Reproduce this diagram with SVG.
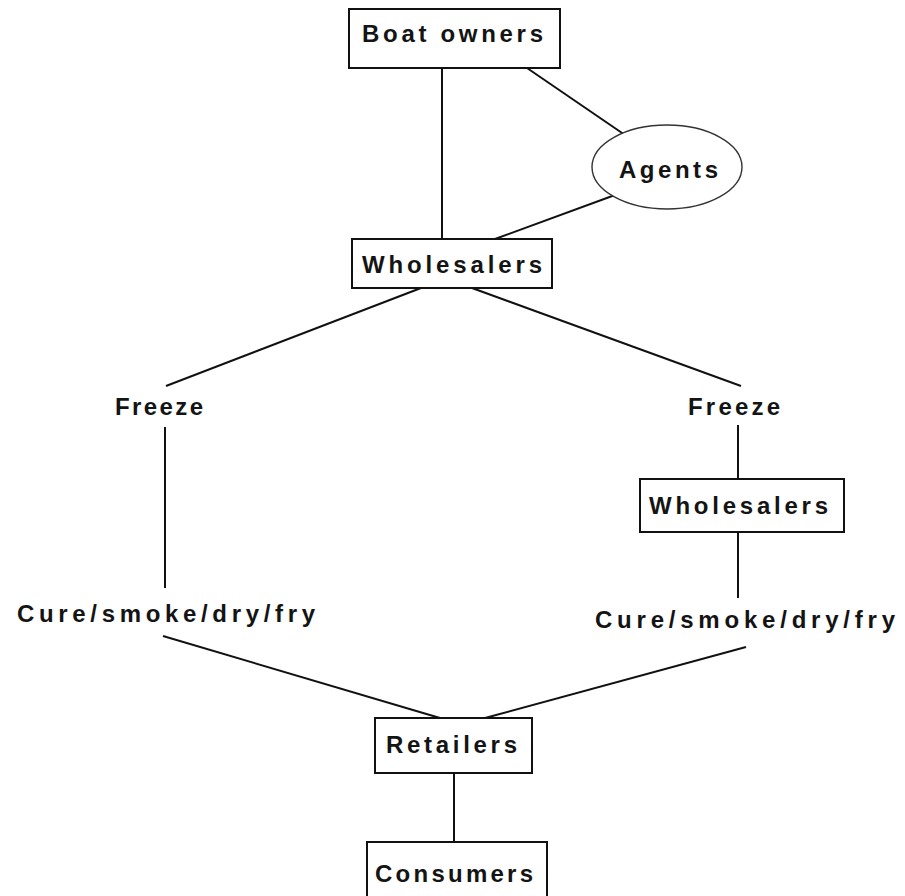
<svg xmlns="http://www.w3.org/2000/svg" width="905" height="896" viewBox="0 0 905 896">
  <style>
    .box { fill: #fff; stroke: #111; stroke-width: 2; }
    .oval { fill: #fff; stroke: #333; stroke-width: 1.4; }
    .link { stroke: #111; stroke-width: 2; fill: none; stroke-linecap: butt; }
    .lbl { font-family: "Liberation Sans", Arial, Helvetica, sans-serif; font-weight: bold; font-size: 24px; fill: #141414; }
  </style>
  <rect width="905" height="896" fill="#fff"/>

  <!-- connectors -->
  <g id="connectors">
    <line class="link" x1="442" y1="68" x2="442" y2="239"/>
    <line class="link" x1="527" y1="68" x2="625" y2="135"/>
    <line class="link" x1="615" y1="195" x2="495" y2="239"/>
    <line class="link" x1="421" y1="288" x2="166" y2="386"/>
    <line class="link" x1="472" y1="288" x2="741" y2="386"/>
    <line class="link" x1="165" y1="427" x2="165" y2="588"/>
    <line class="link" x1="738" y1="425" x2="738" y2="479"/>
    <line class="link" x1="738" y1="532" x2="738" y2="598"/>
    <line class="link" x1="163" y1="636" x2="440" y2="718"/>
    <line class="link" x1="746" y1="647" x2="485" y2="718"/>
    <line class="link" x1="454" y1="773" x2="454" y2="842"/>
  </g>

  <g id="boat-owners">
    <rect class="box" x="349" y="9" width="211" height="59"/>
    <text class="lbl" x="362" y="42" textLength="181" lengthAdjust="spacing">Boat owners</text>
  </g>

  <g id="agents">
    <ellipse class="oval" cx="667" cy="167" rx="75" ry="42"/>
    <text class="lbl" x="619" y="178" font-size="23" textLength="99" lengthAdjust="spacing">Agents</text>
  </g>

  <g id="wholesalers">
    <rect class="box" x="352" y="239" width="200" height="49"/>
    <text class="lbl" x="362" y="273" font-size="23" textLength="180" lengthAdjust="spacing">Wholesalers</text>
  </g>

  <g id="freeze-left">
    <text class="lbl" x="115" y="415" textLength="88" lengthAdjust="spacing">Freeze</text>
  </g>

  <g id="freeze-right">
    <text class="lbl" x="688" y="415" textLength="92" lengthAdjust="spacing">Freeze</text>
  </g>

  <g id="wholesalers-right">
    <rect class="box" x="640" y="479" width="204" height="53"/>
    <text class="lbl" x="649" y="514" font-size="23" textLength="179" lengthAdjust="spacing">Wholesalers</text>
  </g>

  <g id="process-left">
    <text class="lbl" x="17" y="622" font-size="22" textLength="298" lengthAdjust="spacing">Cure/smoke/dry/fry</text>
  </g>

  <g id="process-right">
    <text class="lbl" x="595" y="628" font-size="22" textLength="300" lengthAdjust="spacing">Cure/smoke/dry/fry</text>
  </g>

  <g id="retailers">
    <rect class="box" x="375" y="718" width="157" height="55"/>
    <text class="lbl" x="386" y="753" textLength="131" lengthAdjust="spacing">Retailers</text>
  </g>

  <g id="consumers">
    <rect class="box" x="367" y="842" width="180" height="70"/>
    <text class="lbl" x="375" y="882" font-size="26" textLength="158" lengthAdjust="spacing">Consumers</text>
  </g>
</svg>
